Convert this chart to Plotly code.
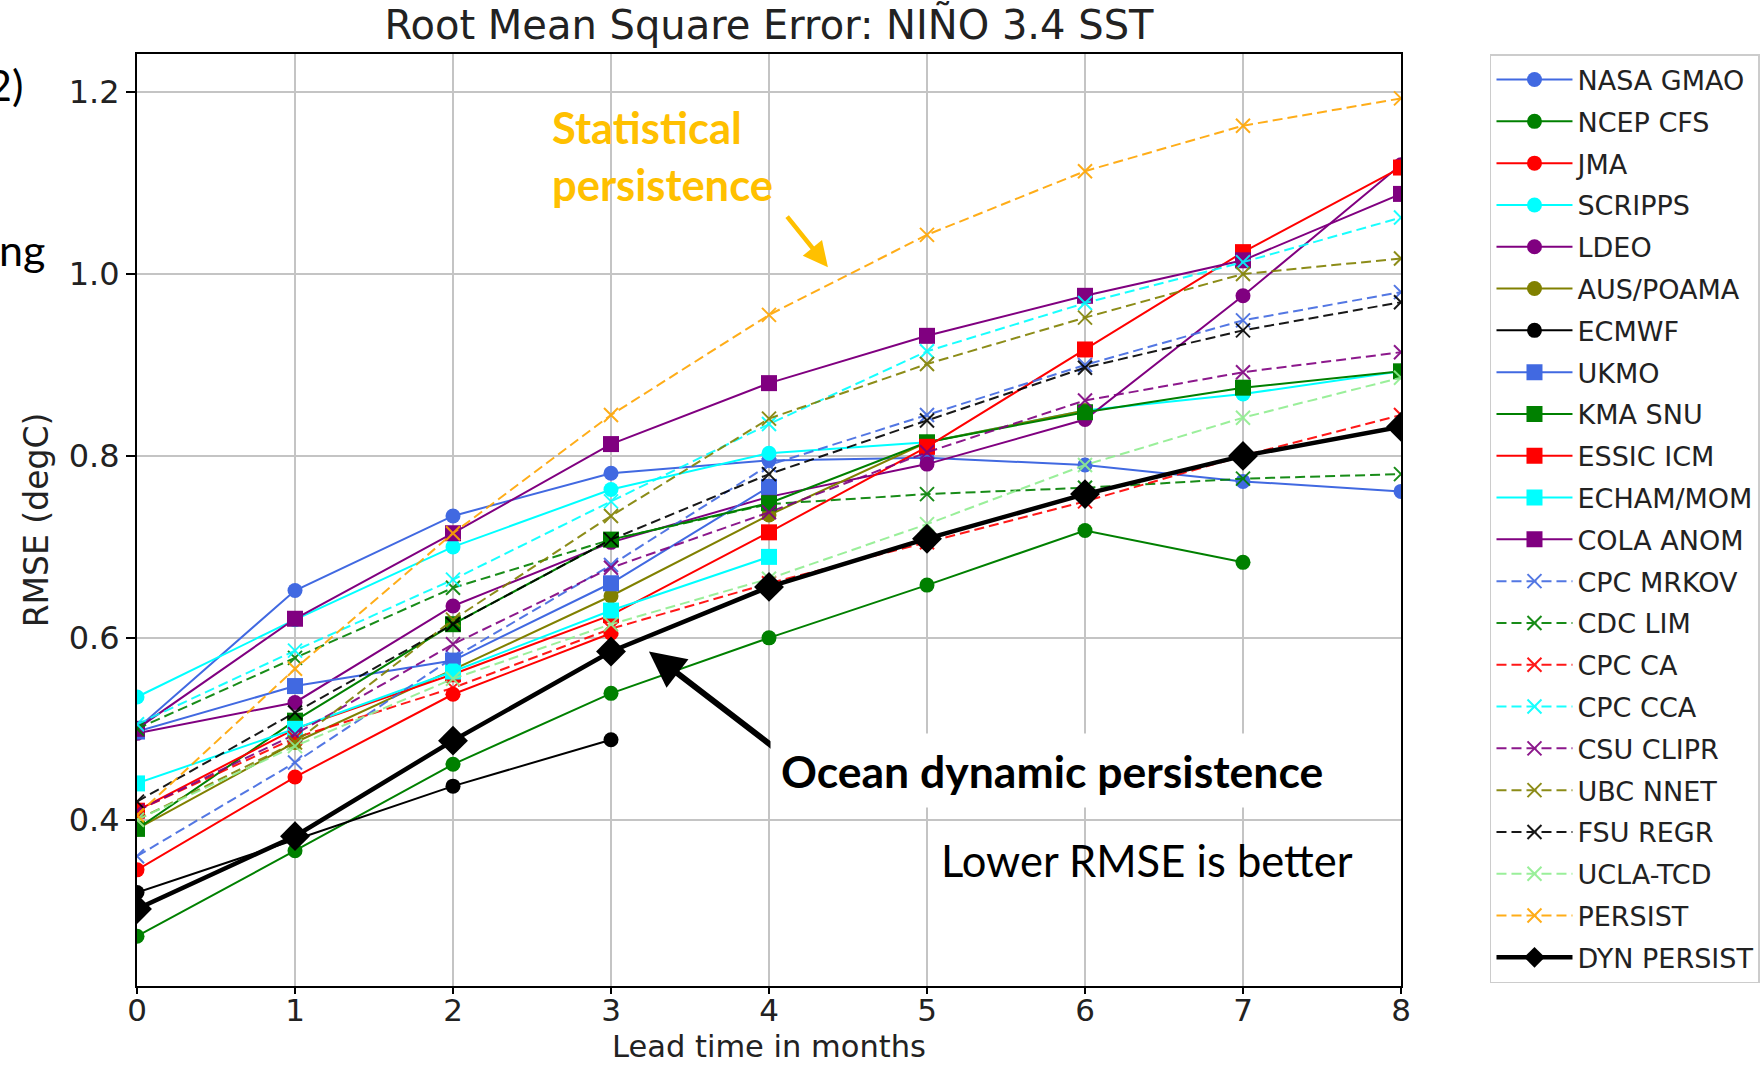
import plotly.graph_objects as go

lead = [0, 1, 2, 3, 4, 5, 6, 7, 8]

nasa_gmao = [0.500, 0.652, 0.734, 0.781, 0.795, 0.798, 0.790, 0.772, 0.761]
ncep_cfs = [0.272, 0.366, 0.461, 0.539, 0.600, 0.658, 0.718, 0.683, None]
jma = [0.345, 0.447, 0.538, 0.605, None, None, None, None, None]
scripps = [0.535, 0.620, 0.700, 0.763, 0.803, 0.815, 0.850, 0.868, 0.893]
ldeo = [0.495, 0.529, 0.635, 0.705, 0.755, 0.791, 0.840, 0.976, 1.120]
aus_poama = [0.390, 0.485, 0.565, 0.646, 0.735, 0.815, 0.850, None, None]
ecmwf = [0.320, 0.378, 0.437, 0.488, None, None, None, None, None]
ukmo = [0.497, 0.547, 0.575, 0.660, 0.766, None, None, None, None]
kma_snu = [0.390, 0.509, 0.615, 0.708, 0.748, 0.815, 0.848, 0.875, 0.893]
essic_icm = [0.410, 0.500, 0.560, 0.625, 0.716, 0.810, 0.917, 1.024, 1.117]
echam_mom = [0.440, 0.500, 0.563, 0.630, 0.689, None, None, None, None]
cola_anom = [0.500, 0.621, 0.715, 0.813, 0.880, 0.932, 0.976, 1.015, 1.088]
cpc_mrkov = [0.360, 0.463, 0.578, 0.680, 0.790, 0.845, 0.900, 0.949, 0.980]
cdc_lim = [0.500, 0.578, 0.655, 0.708, 0.747, 0.758, 0.765, 0.775, 0.780]
cpc_ca = [0.410, 0.490, 0.545, 0.610, 0.660, 0.705, 0.750, 0.800, 0.845]
cpc_cca = [0.505, 0.586, 0.664, 0.750, 0.835, 0.915, 0.968, 1.013, 1.062]
csu_clipr = [0.410, 0.494, 0.593, 0.677, 0.738, 0.804, 0.861, 0.892, 0.914]
ubc_nnet = [0.400, 0.485, 0.620, 0.734, 0.841, 0.901, 0.952, 1.000, 1.017]
fsu_regr = [0.420, 0.518, 0.615, 0.708, 0.780, 0.839, 0.897, 0.938, 0.969]
ucla_tcd = [0.400, 0.481, 0.555, 0.615, 0.665, 0.725, 0.790, 0.842, 0.886]
persist = [0.405, 0.566, 0.715, 0.845, 0.955, 1.043, 1.113, 1.163, 1.193]
dyn_persist = [0.302, 0.382, 0.487, 0.585, 0.656, 0.709, 0.758, 0.800, 0.832]

series = [
    ("NASA GMAO", nasa_gmao, "royalblue", "circle", "solid"),
    ("NCEP CFS", ncep_cfs, "green", "circle", "solid"),
    ("JMA", jma, "red", "circle", "solid"),
    ("SCRIPPS", scripps, "cyan", "circle", "solid"),
    ("LDEO", ldeo, "purple", "circle", "solid"),
    ("AUS/POAMA", aus_poama, "olive", "circle", "solid"),
    ("ECMWF", ecmwf, "black", "circle", "solid"),
    ("UKMO", ukmo, "royalblue", "square", "solid"),
    ("KMA SNU", kma_snu, "green", "square", "solid"),
    ("ESSIC ICM", essic_icm, "red", "square", "solid"),
    ("ECHAM/MOM", echam_mom, "cyan", "square", "solid"),
    ("COLA ANOM", cola_anom, "purple", "square", "solid"),
    ("CPC MRKOV", cpc_mrkov, "royalblue", "x-thin-open", "dash"),
    ("CDC LIM", cdc_lim, "green", "x-thin-open", "dash"),
    ("CPC CA", cpc_ca, "red", "x-thin-open", "dash"),
    ("CPC CCA", cpc_cca, "cyan", "x-thin-open", "dash"),
    ("CSU CLIPR", csu_clipr, "purple", "x-thin-open", "dash"),
    ("UBC NNET", ubc_nnet, "olive", "x-thin-open", "dash"),
    ("FSU REGR", fsu_regr, "black", "x-thin-open", "dash"),
    ("UCLA-TCD", ucla_tcd, "lightgreen", "x-thin-open", "dash"),
    ("PERSIST", persist, "orange", "x-thin-open", "dash"),
]

fig = go.Figure()
for i, (name, vals, color, sym, dash) in enumerate(series):
    if sym == "x-thin-open":
        marker = dict(symbol=sym, size=14, color=color, line=dict(color=color, width=2))
        line = dict(color=color, width=2, dash="10px,5px")
    else:
        marker = dict(symbol=sym, size=15 if sym == "circle" else 16, color=color,
                      line=dict(width=0))
        line = dict(color=color, width=2)
    fig.add_trace(go.Scatter(x=lead, y=vals, name=name, mode="lines+markers",
                             line=line, marker=marker, opacity=0.9 if dash == "dash" else 1,
                             legendgroup="g%d" % i, connectgaps=False))

fig.add_trace(go.Scatter(x=lead, y=dyn_persist, name="DYN PERSIST", mode="lines+markers",
                         line=dict(color="black", width=4.5),
                         marker=dict(symbol="diamond", size=23, color="black"),
                         legendgroup="g_dyn"))

fig.update_layout(
    width=1760, height=1066,
    margin=dict(l=137, r=359, t=54, b=80, autoexpand=False),
    paper_bgcolor="white", plot_bgcolor="white",
    title=dict(text="Root Mean Square Error: NIÑO 3.4 SST", x=769 / 1760, xanchor="center",
               y=1 - 25 / 1066, yanchor="middle",
               font=dict(family="DejaVu Sans", size=40, color="#222222")),
    font=dict(family="DejaVu Sans", color="#222222"),
    legend=dict(x=1.0704, y=1.0, xanchor="left", yanchor="top",
                bgcolor="white", bordercolor="#cccccc", borderwidth=1.5,
                font=dict(family="DejaVu Sans", size=27, color="#222222"),
                tracegroupgap=3.7, itemwidth=76, maxheight=1040),
    showlegend=True,
)

fig.update_xaxes(range=[0, 8], tickvals=lead, ticks="outside", ticklen=6, tickwidth=2,
                 tickcolor="black", showline=True, linecolor="black", linewidth=2, mirror=True,
                 showgrid=True, gridcolor="#c4c4c4", gridwidth=1.5, zeroline=False,
                 ticklabelstandoff=-10,
                 tickfont=dict(size=31, color="#222222"))
fig.update_yaxes(range=[0.2173, 1.2418], tickvals=[0.4, 0.6, 0.8, 1.0, 1.2], tickformat=".1f",
                 ticks="outside", ticklen=9, tickwidth=2, tickcolor="black",
                 showline=True, linecolor="black", linewidth=2, mirror=True,
                 showgrid=True, gridcolor="#c4c4c4", gridwidth=1.5, zeroline=False,
                 tickfont=dict(size=32, color="#222222"),
                 title=dict(text="RMSE (degC)", font=dict(size=33, color="#222222"), standoff=10))

# x-axis title placed as paper annotation at the bottom edge, like the reference
fig.add_annotation(x=0.5, y=(985.5 - 1046) / 931.5, xref="paper", yref="paper",
                   text="Lead time in months", showarrow=False, borderpad=0,
                   font=dict(family="DejaVu Sans", size=30.5, color="#222222"),
                   xanchor="center", yanchor="middle")

ann_font = "Lato"
fig.add_annotation(x=3.24, y=0.585, ax=129, ay=99, xref="x", yref="y", text="",
                   showarrow=True, arrowhead=2, arrowsize=1.2, arrowwidth=6, arrowcolor="black")
fig.add_annotation(x=4.373, y=1.0075, ax=-42, ay=-52, xref="x", yref="y", text="",
                   showarrow=True, arrowhead=2, arrowsize=1.1, arrowwidth=4.5, arrowcolor="#FFC000")
fig.add_annotation(x=(1052 - 137) / 158.0, y=0.4 + (819.4 - 770) / 909.25, xref="x", yref="y",
                   text="<b>Ocean dynamic persistence</b>", showarrow=False,
                   font=dict(family=ann_font, size=44.5, color="black"),
                   bgcolor="white", borderpad=10, xanchor="center", yanchor="middle")
fig.add_annotation(x=(939 - 137) / 158.0, y=0.4 + (819.4 - 860) / 909.25, xref="x", yref="y",
                   text="Lower RMSE is better", showarrow=False,
                   font=dict(family=ann_font, size=43.5, color="black"),
                   xanchor="left", yanchor="middle")
fig.add_annotation(x=(550 - 137) / 158.0, y=0.4 + (819.4 - 155) / 909.25, xref="x", yref="y",
                   text="<b>Statistical<br>persistence</b>", showarrow=False, align="left",
                   font=dict(family=ann_font, size=43.5, color="#FFC000"),
                   xanchor="left", yanchor="middle")
fig.add_annotation(x=(25 - 137) / 1264, y=0.4 + (819.4 - 84) / 909.25, xref="paper", yref="y",
                   text="2)", showarrow=False, font=dict(family=ann_font, size=43, color="black"),
                   xanchor="right", yanchor="middle")
fig.add_annotation(x=(47 - 137) / 1264, y=0.4 + (819.4 - 249) / 909.25, xref="paper", yref="y",
                   text="ng", showarrow=False, font=dict(family=ann_font, size=43, color="black"),
                   xanchor="right", yanchor="middle")

fig.write_html("out.html")
